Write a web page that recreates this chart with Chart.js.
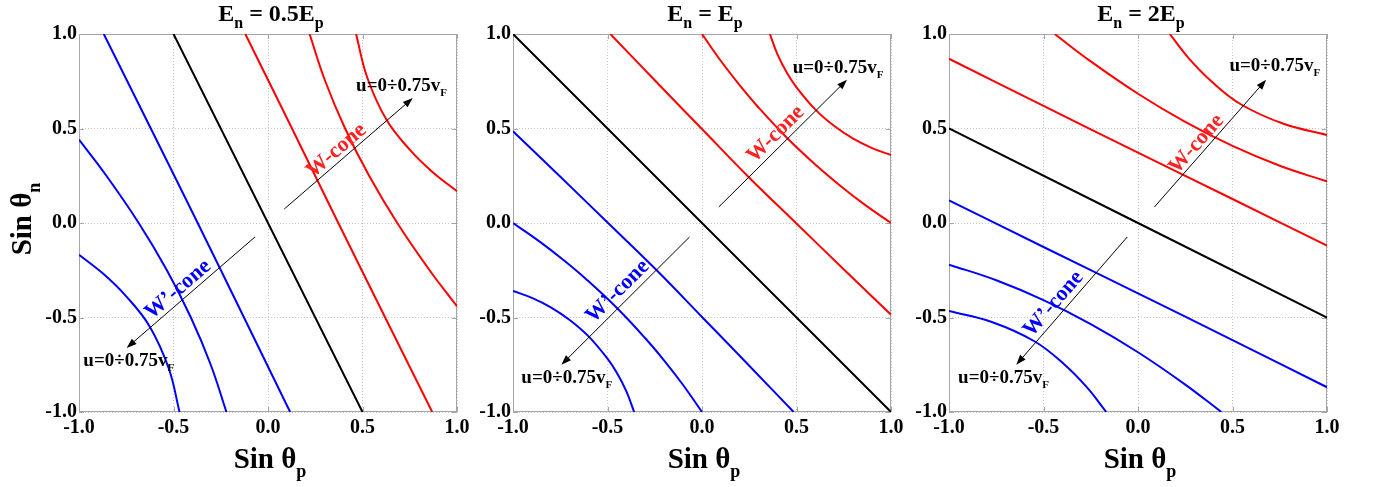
<!DOCTYPE html>
<html>
<head>
<meta charset="utf-8">
<script src="https://cdn.jsdelivr.net/npm/chart.js@4/dist/chart.umd.min.js"></script>
<style>
html,body{margin:0;padding:0;background:#fff;width:1377px;height:487px;overflow:hidden}
canvas{position:absolute;left:0;top:0}
</style>
</head>
<body>
<canvas id="c0" width="1377" height="487" style="width:1377px;height:487px"></canvas>
<canvas id="c1" width="1377" height="487" style="width:1377px;height:487px"></canvas>
<canvas id="c2" width="1377" height="487" style="width:1377px;height:487px"></canvas>
<script>
// ---------- tick labels ----------
const tickValues = [-1, -0.5, 0, 0.5, 1];
const xTickLabels = ['-1.0', '-0.5', '0.0', '0.5', '1.0'];
const yTickLabels = ['-1.0', '-0.5', '0.0', '0.5', '1.0'];

// ---------- panel 1 : En = 0.5Ep ----------
const p1Black = [[-0.5, 1], [0.5, -1]];
const p1Red1 = [[-0.12, 1], [0.127, 0.5], [0.372, 0], [0.62, -0.5], [0.869, -1]];
const p1Red2 = [[0.22, 1], [0.303, 0.75], [0.408, 0.5], [0.535, 0.25], [0.684, 0], [0.855, -0.25], [1, -0.441]];
const p1Red3 = [[0.466, 1], [0.525, 0.77], [0.627, 0.546], [0.75, 0.388], [0.87, 0.27], [1, 0.168]];
const p1Blue1 = [[-0.869, 1], [-0.62, 0.5], [-0.372, 0], [-0.127, -0.5], [0.117, -1]];
const p1Blue2 = [[-1, 0.441], [-0.855, 0.25], [-0.684, 0], [-0.535, -0.25], [-0.408, -0.5], [-0.303, -0.75], [-0.22, -1]];
const p1Blue3 = [[-1, -0.168], [-0.87, -0.27], [-0.75, -0.388], [-0.627, -0.546], [-0.525, -0.77], [-0.468, -1]];

// ---------- panel 2 : En = Ep ----------
const p2Black = [[-1, 1], [1, -1]];
const p2Red1 = [[-0.485, 1], [-0.25, 0.755], [0, 0.497], [0.245, 0.245], [0.497, 0], [0.755, -0.25], [1, -0.485]];
const p2Red2 = [[0, 1], [0.1, 0.857], [0.2, 0.728], [0.3, 0.61], [0.45, 0.45], [0.61, 0.3], [0.728, 0.2], [0.857, 0.1], [1, 0]];
const p2Red3 = [[0.359, 1], [0.4, 0.891], [0.45, 0.794], [0.5, 0.718], [0.6, 0.6], [0.7, 0.513], [0.8, 0.446], [0.9, 0.396], [1, 0.359]];
const p2Blue1 = [[-1, 0.485], [-0.755, 0.25], [-0.497, 0], [-0.245, -0.245], [0, -0.497], [0.25, -0.755], [0.485, -1]];
const p2Blue2 = [[-1, 0], [-0.857, -0.1], [-0.728, -0.2], [-0.61, -0.3], [-0.45, -0.45], [-0.3, -0.61], [-0.2, -0.728], [-0.1, -0.857], [0, -1]];
const p2Blue3 = [[-1, -0.359], [-0.9, -0.396], [-0.8, -0.446], [-0.7, -0.513], [-0.6, -0.6], [-0.5, -0.718], [-0.45, -0.794], [-0.4, -0.891], [-0.359, -1]];

// ---------- panel 3 : En = 2Ep ----------
const p3Black = [[-1, 0.5], [1, -0.5]];
const p3Red1 = [[-1, 0.869], [-0.5, 0.62], [0, 0.372], [0.5, 0.127], [1, -0.12]];
const p3Red2 = [[-0.441, 1], [-0.25, 0.855], [0, 0.684], [0.25, 0.535], [0.5, 0.408], [0.75, 0.303], [1, 0.22]];
const p3Red3 = [[0.168, 1], [0.27, 0.87], [0.388, 0.75], [0.546, 0.627], [0.77, 0.525], [1, 0.466]];
const p3Blue1 = [[-1, 0.12], [-0.5, -0.127], [0, -0.372], [0.5, -0.62], [1, -0.869]];
const p3Blue2 = [[-1, -0.22], [-0.75, -0.303], [-0.5, -0.408], [-0.25, -0.535], [0, -0.684], [0.25, -0.855], [0.441, -1]];
const p3Blue3 = [[-1, -0.466], [-0.77, -0.525], [-0.546, -0.627], [-0.388, -0.75], [-0.27, -0.87], [-0.168, -1]];

// ---------- texts ----------
const titles = [
  [['E', 0], ['n', 1], [' = 0.5E', 0], ['p', 1]],
  [['E', 0], ['n', 1], [' = E', 0], ['p', 1]],
  [['E', 0], ['n', 1], [' = 2E', 0], ['p', 1]]
];
const xTitle = [['Sin θ', 0], ['p', 1]];
const yTitle = [['Sin θ', 0], ['n', 1]];
const uLabel = [['u=0÷0.75v', 0], ['F', 1]];
const wLabel = 'W-cone';
const wpLabel = 'W’-cone';

// ---------- layout / style ----------
const SERIF = '"Liberation Serif", "Times New Roman", Times, serif';
const RED = '#ff0000', BLUE = '#0000ff', BLACK = '#000000';
const AREA_TOP = 34, AREA_BOTTOM = 412, Y_AXIS_W = 60, X_AXIS_H = 40;

const panels = [
  { left: 79, right: 457, black: p1Black, reds: [p1Red1, p1Red2, p1Red3], blues: [p1Blue1, p1Blue2, p1Blue3], title: titles[0], yTitle: true,
    upArrow: [[0.086, 0.074], [0.766, 0.661]], upLabel: [0.466, 0.696], wPos: [0.362, 0.383],
    dnArrow: [[-0.069, -0.074], [-0.748, -0.661]], dnLabel: [-0.977, -0.759], wpPos: [-0.476, -0.352] },
  { left: 513, right: 891, black: p2Black, reds: [p2Red1, p2Red2, p2Red3], blues: [p2Blue1, p2Blue2, p2Blue3], title: titles[1], yTitle: false,
    upArrow: [[0.089, 0.085], [0.767, 0.758]], upLabel: [0.48, 0.794], wPos: [0.39, 0.47],
    dnArrow: [[-0.066, -0.074], [-0.744, -0.75]], dnLabel: [-0.956, -0.847], wpPos: [-0.446, -0.362] },
  { left: 949, right: 1327, black: p3Black, reds: [p3Red1, p3Red2, p3Red3], blues: [p3Blue1, p3Blue2, p3Blue3], title: titles[2], yTitle: false,
    upArrow: [[0.087, 0.085], [0.678, 0.758]], upLabel: [0.484, 0.802], wPos: [0.31, 0.418],
    dnArrow: [[-0.057, -0.074], [-0.644, -0.75]], dnLabel: [-0.952, -0.847], wpPos: [-0.447, -0.428] }
];

function drawRich(ctx, parts, x, y, align, mainSize, subSize, subDy, color) {
  ctx.save();
  ctx.fillStyle = color || '#000';
  ctx.textBaseline = 'alphabetic';
  ctx.textAlign = 'left';
  let w = 0;
  const ws = parts.map(p => {
    ctx.font = 'bold ' + (p[1] ? subSize : mainSize) + 'px ' + SERIF;
    const m = ctx.measureText(p[0]).width; w += m; return m;
  });
  let cx = align === 'center' ? x - w / 2 : x;
  parts.forEach((p, i) => {
    ctx.font = 'bold ' + (p[1] ? subSize : mainSize) + 'px ' + SERIF;
    ctx.fillText(p[0], cx, y + (p[1] ? subDy : 0));
    cx += ws[i];
  });
  ctx.restore();
}

function drawArrow(ctx, x1, y1, x2, y2) {
  const dx = x2 - x1, dy = y2 - y1, L = Math.hypot(dx, dy);
  const ux = dx / L, uy = dy / L, hl = 10, hw = 3.6;
  ctx.save();
  ctx.strokeStyle = '#000'; ctx.fillStyle = '#000'; ctx.lineWidth = 1;
  ctx.beginPath(); ctx.moveTo(x1, y1); ctx.lineTo(x2 - ux * hl * 0.8, y2 - uy * hl * 0.8); ctx.stroke();
  ctx.beginPath();
  ctx.moveTo(x2, y2);
  ctx.lineTo(x2 - ux * hl - uy * hw, y2 - uy * hl + ux * hw);
  ctx.lineTo(x2 - ux * hl + uy * hw, y2 - uy * hl - ux * hw);
  ctx.closePath(); ctx.fill();
  ctx.restore();
}

function makePlugin(panel) {
  return {
    id: 'deco',
    beforeDatasetsDraw(chart) {
      const ctx = chart.ctx, a = chart.chartArea, xs = chart.scales.x, ys = chart.scales.y;
      ctx.save();
      ctx.strokeStyle = '#a6a6a6'; ctx.lineWidth = 1;
      ctx.strokeRect(Math.round(a.left) + 0.5, Math.round(a.top) + 0.5, Math.round(a.right - a.left) - 1, Math.round(a.bottom - a.top) - 1);
      ctx.beginPath();
      tickValues.forEach(v => {
        const px = Math.round(xs.getPixelForValue(v)) + 0.5;
        const py = Math.round(ys.getPixelForValue(v)) + 0.5;
        ctx.moveTo(px, a.bottom); ctx.lineTo(px, a.bottom - 5);
        ctx.moveTo(px, a.top); ctx.lineTo(px, a.top + 5);
        ctx.moveTo(a.left, py); ctx.lineTo(a.left + 5, py);
        ctx.moveTo(a.right, py); ctx.lineTo(a.right - 5, py);
      });
      ctx.stroke();
      ctx.restore();
    },
    afterDatasetsDraw(chart) {
      const ctx = chart.ctx, a = chart.chartArea, xs = chart.scales.x, ys = chart.scales.y;
      const X = v => xs.getPixelForValue(v), Y = v => ys.getPixelForValue(v);
      const cx = (a.left + a.right) / 2;
      drawRich(ctx, panel.title, cx + 3, 21, 'center', 24, 16, 7);
      drawRich(ctx, xTitle, cx + 2, 468, 'center', 29, 18, 9);
      if (panel.yTitle) {
        ctx.save();
        ctx.translate(31, (a.top + a.bottom) / 2 - 4);
        ctx.rotate(-Math.PI / 2);
        drawRich(ctx, yTitle, 0, 0, 'center', 29, 18, 9);
        ctx.restore();
      }
      const u = panel.upArrow, d = panel.dnArrow;
      const ux1 = X(u[0][0]), uy1 = Y(u[0][1]), ux2 = X(u[1][0]), uy2 = Y(u[1][1]);
      const dx1 = X(d[0][0]), dy1 = Y(d[0][1]), dx2 = X(d[1][0]), dy2 = Y(d[1][1]);
      drawArrow(ctx, ux1, uy1, ux2, uy2);
      drawArrow(ctx, dx1, dy1, dx2, dy2);
      drawRich(ctx, uLabel, X(panel.upLabel[0]), Y(panel.upLabel[1]), 'left', 19, 11, 5);
      drawRich(ctx, uLabel, X(panel.dnLabel[0]), Y(panel.dnLabel[1]), 'left', 19, 11, 5);
      const angU = Math.atan2(uy2 - uy1, ux2 - ux1);
      const angD = Math.atan2(dy1 - dy2, dx1 - dx2);
      [[wLabel, panel.wPos, angU, '#ff2222'], [wpLabel, panel.wpPos, angD, BLUE]].forEach(([t, p, ang, col]) => {
        ctx.save();
        ctx.translate(X(p[0]), Y(p[1]));
        ctx.rotate(ang);
        ctx.font = 'bold 22px ' + SERIF;
        ctx.fillStyle = col; ctx.textAlign = 'center'; ctx.textBaseline = 'middle';
        ctx.fillText(t, 0, 0);
        ctx.restore();
      });
    }
  };
}

function ds(points, color) {
  return {
    data: points.map(p => ({ x: p[0], y: p[1] })),
    showLine: true, borderColor: color, backgroundColor: color, borderWidth: 2,
    pointRadius: 0, fill: false, tension: 0.4
  };
}

function tickFont() { return { family: SERIF, size: 20, weight: 'bold' }; }

panels.forEach((panel, i) => {
  const datasets = [ds(panel.black, BLACK)]
    .concat(panel.reds.map(r => ds(r, RED)))
    .concat(panel.blues.map(b => ds(b, BLUE)));
  new Chart(document.getElementById('c' + i), {
    type: 'scatter',
    data: { datasets },
    options: {
      responsive: false, animation: false, events: [],
      layout: { padding: { left: panel.left - Y_AXIS_W, right: 1377 - panel.right, top: AREA_TOP, bottom: 487 - AREA_BOTTOM - X_AXIS_H } },
      plugins: { legend: { display: false }, tooltip: { enabled: false }, title: { display: false } },
      scales: {
        x: {
          type: 'linear', min: -1, max: 1,
          afterBuildTicks: s => { s.ticks = tickValues.map(v => ({ value: v })); },
          afterFit: s => { s.height = X_AXIS_H; },
          ticks: { callback: (v) => { const k = tickValues.findIndex(t => Math.abs(t - v) < 1e-9); return k >= 0 ? xTickLabels[k] : ''; },
                   font: tickFont(), color: '#000', padding: 4, maxRotation: 0, autoSkip: false },
          grid: { color: '#c8c8c8', lineWidth: 1, drawTicks: false },
          border: { display: false, dash: [1, 2] }
        },
        y: {
          type: 'linear', min: -1, max: 1,
          afterBuildTicks: s => { s.ticks = tickValues.map(v => ({ value: v })); },
          afterFit: s => { s.width = Y_AXIS_W; },
          ticks: { callback: (v) => { const k = tickValues.findIndex(t => Math.abs(t - v) < 1e-9); return k >= 0 ? yTickLabels[k] : ''; },
                   font: tickFont(), color: '#000', padding: 2, autoSkip: false },
          grid: { color: '#c8c8c8', lineWidth: 1, drawTicks: false },
          border: { display: false, dash: [1, 2] }
        }
      }
    },
    plugins: [makePlugin(panel)]
  });
});
</script>
</body>
</html>
